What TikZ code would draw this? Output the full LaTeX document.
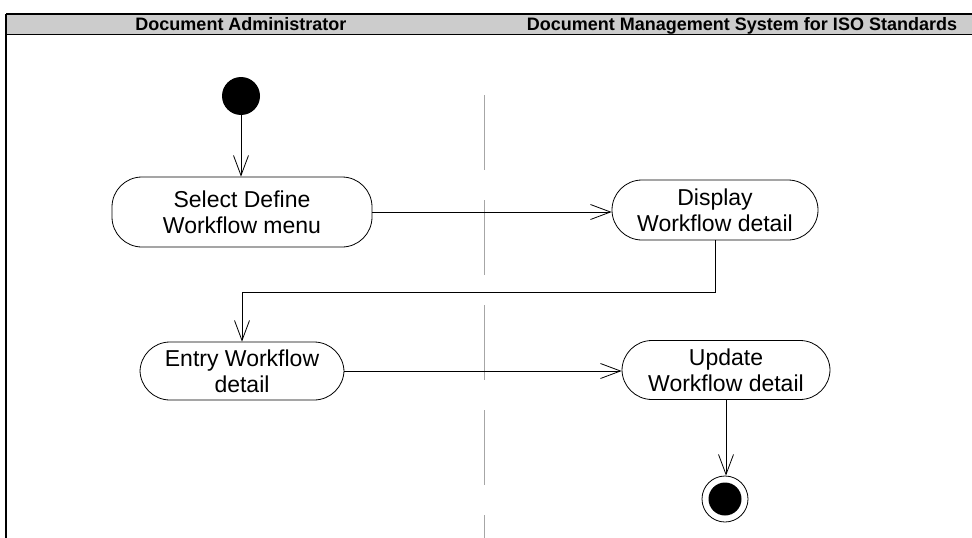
\documentclass[tikz,border=0pt]{standalone}
\usepackage{fontspec}
\setmainfont{Liberation Sans}
\usetikzlibrary{arrows.meta,positioning}
\begin{document}
\begin{tikzpicture}[x=1pt,y=-1pt,line width=0.8pt,
		>={Straight Barb[length=20pt,width=15pt,line width=0.8pt]},
		activity/.style={draw,rounded corners=30pt,align=center,inner sep=0pt,
			font=\fontsize{23}{26}\selectfont},
		lanetitle/.style={anchor=base,font=\bfseries\fontsize{18}{20}\selectfont}]
	\useasboundingbox (0,0) rectangle (972,538);
	% swimlane header
	\fill[gray!40] (6,14) rectangle (972,34);
	\draw[line width=1.6pt] (6,14) -- (972,14);
	\draw (6,34) -- (972,34);
	\draw[line width=1.4pt] (6,14) -- (6,538);
	\draw[gray!70,line width=0.6pt,dash pattern=on 75pt off 30pt] (484,95) -- (484,538);
	\node[lanetitle] (admin) at (241,30) {Document Administrator};
	\node[lanetitle] (dms) at (742,30) {Document Management System for ISO Standards};
	% activities
	\node[circle,fill=black,minimum size=38pt,inner sep=0pt] (start) at (241,96) {};
	\node[activity,minimum width=260pt,minimum height=70pt] (select) at (242,212) {Select Define\\Workflow menu};
	\node[activity,minimum width=206pt,minimum height=60pt] (display) at (715,210) {Display\\Workflow detail};
	\node[activity,minimum width=204pt,minimum height=58pt] (entry) at (242,371) {Entry Workflow\\detail};
	\node[activity,minimum width=208pt,minimum height=59pt] (update) at (726,370) {Update\\Workflow detail};
	\node[circle,draw,minimum size=46pt,inner sep=0pt] (finish) at (725,499) {};
	\fill (finish.center) circle (16.5pt);
	\coordinate (turn) at (0,292);
	% transitions
	\draw[->] (start) -- (start |- select.north);
	\draw[->] (select.east) -- (select.east -| display.west);
	\draw[->] (display.south) |- (turn -| entry.north) -- (entry.north);
	\draw[->] (entry.east) -- (entry.east -| update.west);
	\draw[->] (update.south) -- (finish.north -| update.south);
\end{tikzpicture}
\end{document}
